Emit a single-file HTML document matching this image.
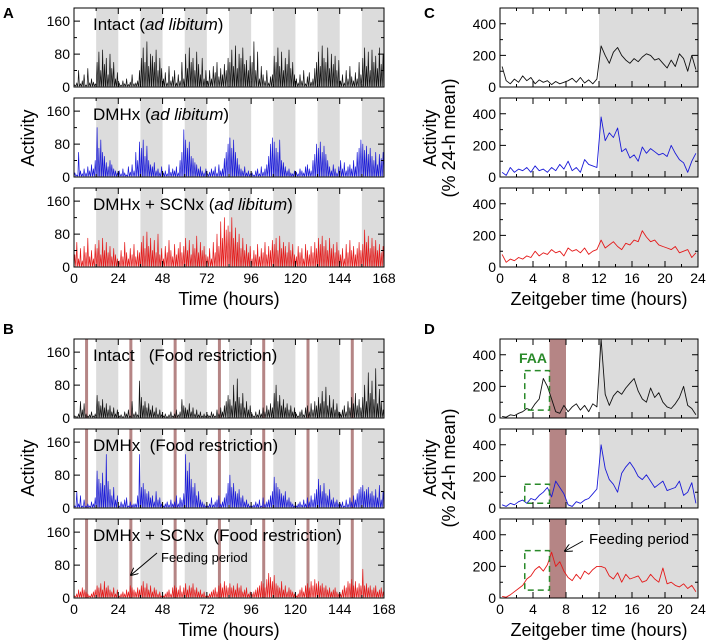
<!DOCTYPE html>
<html><head><meta charset="utf-8"><style>
body{margin:0;background:#fff;}
svg{display:block;font-family:"Liberation Sans",Arial,sans-serif;}
</style></head><body>
<svg id="fig" width="709" height="642" viewBox="0 0 709 642" xmlns="http://www.w3.org/2000/svg">
<text x="3" y="18" font-size="15" font-weight="bold">A</text>
<text x="3" y="334" font-size="15" font-weight="bold">B</text>
<text x="424" y="18" font-size="15" font-weight="bold">C</text>
<text x="424" y="334" font-size="15" font-weight="bold">D</text>
<text transform="translate(34,138) rotate(-90)" text-anchor="middle" font-size="18">Activity</text>
<text transform="translate(34,468) rotate(-90)" text-anchor="middle" font-size="18">Activity</text>
<text transform="translate(436,138) rotate(-90)" text-anchor="middle" font-size="18">Activity</text>
<text transform="translate(455,138) rotate(-90)" text-anchor="middle" font-size="18">(% 24-h mean)</text>
<text transform="translate(436,468) rotate(-90)" text-anchor="middle" font-size="18">Activity</text>
<text transform="translate(455,468) rotate(-90)" text-anchor="middle" font-size="18">(% 24-h mean)</text>
<text x="229" y="305" text-anchor="middle" font-size="18">Time (hours)</text>
<text x="229" y="636" text-anchor="middle" font-size="18">Time (hours)</text>
<text x="599" y="305" text-anchor="middle" font-size="18">Zeitgeber time (hours)</text>
<text x="599" y="636" text-anchor="middle" font-size="18">Zeitgeber time (hours)</text>
</svg>
<script>
// Panel A (ad libitum), hourly values
const aIntact=[5,10,40,8,15,30,5,45,10,20,12,8,60,85,40,90,55,70,30,80,45,60,20,35,
10,5,15,8,20,6,12,30,8,10,15,40,70,95,60,110,50,80,75,60,90,40,70,45,
20,35,10,50,15,25,40,10,30,15,60,20,80,45,95,60,70,40,85,55,30,70,20,40,
15,40,20,50,35,60,25,45,30,55,40,70,60,90,50,100,45,80,70,95,55,65,40,75,
60,110,40,85,20,50,30,15,40,10,25,30,75,60,95,50,85,40,70,55,90,45,60,30,
20,10,30,15,40,8,25,35,12,20,45,60,85,50,100,70,60,95,45,80,55,75,40,65,
15,30,10,40,20,50,25,15,35,20,60,30,70,95,50,85,40,90,60,75,45,95,55,80];
const aDMHx=[10,5,60,15,8,20,10,25,15,30,20,40,120,70,90,60,50,35,25,40,30,20,15,10,
15,8,20,10,5,25,12,30,15,60,40,85,70,90,50,75,40,30,25,35,15,20,10,25,
10,15,8,30,12,20,15,25,10,40,60,115,90,70,85,50,45,35,30,20,25,15,10,20,
8,12,20,15,25,10,30,15,20,45,60,80,95,70,90,60,45,30,20,15,25,10,15,8,
10,5,15,20,8,25,12,20,30,50,80,95,85,70,60,90,40,35,25,15,20,10,8,15,
12,8,20,15,10,25,30,20,15,40,55,80,70,85,60,75,55,40,25,15,30,20,10,25,
40,20,35,15,25,30,20,40,25,60,70,90,80,65,75,55,70,50,40,60,30,55,45,60];
const aSCNx=[30,60,20,45,15,50,35,70,25,40,20,55,45,65,30,70,40,60,35,50,25,45,30,20,
15,40,25,60,35,20,45,30,55,25,40,35,60,75,45,85,50,70,40,65,35,80,30,45,
20,50,35,65,40,25,55,30,45,60,35,50,70,40,65,30,55,45,75,35,60,40,50,30,
25,45,20,60,35,80,50,110,70,120,90,100,85,120,70,95,60,80,45,70,40,55,35,50,
20,40,30,55,25,45,35,60,30,50,40,65,55,70,40,75,45,60,50,35,60,40,55,30,
25,50,35,45,20,55,40,30,50,35,60,45,70,55,75,50,65,40,70,45,55,35,60,40,
30,45,20,55,35,65,40,50,30,45,60,40,55,90,60,75,45,70,50,65,40,55,35,50];
// Panel B (food restriction)
const bIntact=[5,3,10,40,20,35,10,5,8,15,5,10,55,40,30,45,25,35,20,30,15,25,10,20,
5,8,3,15,10,20,5,40,10,15,8,90,50,30,40,25,35,20,30,15,25,10,20,8,
5,10,3,8,15,5,10,20,8,15,45,30,25,20,35,15,25,10,20,8,15,5,10,5,
8,5,15,10,5,20,10,25,15,30,40,55,45,30,80,40,95,50,35,60,25,40,20,30,
10,5,15,8,20,10,25,15,30,20,35,25,60,80,40,55,30,45,25,35,20,30,15,25,
10,5,15,20,8,25,30,15,35,20,40,30,50,35,65,40,75,30,55,25,45,20,35,15,
10,20,30,15,40,25,50,35,60,30,45,25,50,80,40,110,60,90,45,120,35,70,40,20];
const bDMHx=[5,40,10,30,5,20,5,10,5,15,10,25,90,70,60,85,55,130,65,45,30,50,20,30,
5,15,10,20,25,5,15,8,10,10,30,130,50,60,45,35,40,25,30,15,40,20,25,10,
5,10,15,8,20,10,15,30,10,25,20,35,130,90,110,70,50,60,30,40,20,15,10,5,
5,10,25,8,15,20,30,10,15,25,35,60,80,50,60,40,35,45,25,30,15,20,10,5,
5,8,15,10,20,5,25,10,15,20,30,40,75,60,50,45,35,30,40,20,25,15,10,5,
5,10,15,8,20,10,25,15,30,20,35,45,70,55,40,60,35,30,45,20,25,15,20,10,
10,15,5,20,10,25,15,30,20,35,45,50,55,40,45,50,35,40,30,45,25,55,20,40];
const bSCNx=[5,10,20,15,25,20,15,10,5,10,15,20,30,25,35,20,40,25,30,20,15,25,10,20,
5,10,15,10,20,15,30,25,20,15,25,20,30,40,25,35,20,30,15,25,20,10,15,5,
5,10,15,20,10,25,30,25,20,30,15,25,35,20,30,25,35,20,25,15,20,10,15,5,
5,10,15,20,25,15,30,35,25,40,30,25,35,25,30,20,35,25,30,15,20,25,10,15,
10,15,20,25,30,40,35,25,45,60,50,40,55,35,30,25,40,20,30,15,25,20,15,10,
5,10,20,25,15,30,35,25,40,30,45,35,40,30,35,25,30,20,25,15,20,25,15,10,
10,20,30,25,40,35,45,30,40,25,35,30,70,30,35,25,30,20,25,30,15,20,25,15];
// Panels C/D, half-hour values (% of 24-h mean)
const cIntact=[130,40,20,50,30,70,40,60,20,45,30,40,15,35,20,30,40,55,30,60,25,45,20,50,
260,200,150,220,250,200,170,150,180,160,190,210,200,170,180,150,120,170,130,210,180,100,200,110];
const cDMHx=[30,10,60,30,50,40,60,30,70,40,50,30,60,40,80,50,100,40,60,30,110,80,70,60,
380,230,280,250,310,160,180,120,140,100,190,150,180,160,140,150,130,200,150,110,90,30,100,150];
const cSCNx=[80,30,50,40,60,50,70,60,100,70,90,80,110,90,100,70,120,100,110,90,120,80,100,110,
170,120,140,160,130,110,150,140,170,160,230,190,160,170,140,130,120,110,130,90,100,110,60,90];
const dIntact=[10,5,20,15,30,40,60,50,90,120,250,200,120,40,30,80,40,70,90,50,80,40,90,70,
500,150,80,140,170,150,190,220,250,170,120,100,190,130,160,100,70,60,90,130,200,80,60,20];
const dDMHx=[20,10,30,20,40,50,30,60,50,80,100,130,70,170,130,90,20,10,40,30,50,60,90,120,
400,250,180,150,100,220,260,290,250,200,180,210,170,130,150,170,110,120,130,170,80,100,160,30];
const dSCNx=[10,5,20,40,60,80,120,140,180,200,170,210,290,200,230,170,130,110,150,120,170,150,180,200,
200,190,140,120,160,100,150,120,130,140,100,110,150,120,100,190,90,100,80,70,90,60,80,40];
const weekTicks=[0,24,48,72,96,120,144,168];
const dayTicks=[0,4,8,12,16,20,24];
const actTicks=[0,80,160];
const pctTicks=[0,200,400];
const faaBoxes=[[3,6,50,300],[3,6,30,150],[3,6,50,300]];

const NS='http://www.w3.org/2000/svg';
const svg=document.getElementById('fig');
function mk(tag,attrs,parent){const e=document.createElementNS(NS,tag);for(const k in attrs)e.setAttribute(k,attrs[k]);(parent||svg).appendChild(e);return e;}

function panel(o){
  const g=mk('g',{});
  
  
  const sx=v=>o.x0+(v-o.xmin)/(o.xmax-o.xmin)*(o.x1-o.x0);
  const sy=v=>o.y1-(v/o.ymax)*(o.y1-o.y0);
  for(let d=o.xmin;d<o.xmax;d+=24){
    const r=mk('rect',{x:sx(d+12),y:o.y0,width:sx(d+24)-sx(d+12),height:o.y1-o.y0,fill:'#dcdcdc'},g);
    
    
  }
  if(o.feed){
    for(let d=o.xmin;d<o.xmax;d+=24){
      const w=o.spiky?3:sx(d+8)-sx(d+6);
      const r=mk('rect',{x:sx(d+6),y:o.y0,width:w,height:o.y1-o.y0,fill:'#b58585'},g);
      
      
    }
  }
  const step=(o.xmax-o.xmin)/o.data.length;
  let p='';
  o.data.forEach((v,i)=>{
    const X=sx(o.xmin+i*step+step/2), Y=sy(Math.min(v,o.ymax));
    if(o.spiky){
      p+=(i?'L':'M')+sx(o.xmin+i*step+step*0.1).toFixed(1)+','+(o.y1-1).toFixed(1);
      p+='L'+X.toFixed(1)+','+Y.toFixed(1);
      p+='L'+sx(o.xmin+i*step+step*0.9).toFixed(1)+','+(o.y1-1).toFixed(1);
    } else {
      p+=(i?'L':'M')+X.toFixed(1)+','+Y.toFixed(1);
    }
  });
  const tr=mk('path',{d:p,fill:'none',stroke:o.color,'stroke-width':o.spiky?0.7:0.9,'stroke-linejoin':'round'},g);
  
  
  if(o.box){
    const b=o.box;
    const r=mk('rect',{x:sx(b[0]),y:sy(b[3]),width:sx(b[1])-sx(b[0]),height:sy(b[2])-sy(b[3]),fill:'none',stroke:'#2a8a2a','stroke-width':1.5,'stroke-dasharray':'6,4'},g);
    
    
  }
  mk('rect',{x:o.x0,y:o.y0,width:o.x1-o.x0,height:o.y1-o.y0,fill:'none',stroke:'#000','stroke-width':1},g);
  let t='';
  for(let v=o.xmin;v<=o.xmax;v+=o.xminor){
    const L=((v-o.xmin)%o.xmajor===0)?6:3;const X=sx(v);
    t+=`M${X},${o.y1}v${-L}M${X},${o.y0}v${L}`;
  }
  for(let v=0;v<o.ymax;v+=o.yminor){
    const L=(v%o.ymajor===0)?6:3;const Y=sy(v);
    t+=`M${o.x0},${Y}h${L}M${o.x1},${Y}h${-L}`;
  }
  mk('path',{d:t,stroke:'#000','stroke-width':1,fill:'none'},g);
  o.yt.forEach(v=>{
    const e=mk('text',{x:o.x0-4,y:sy(v)+5,'text-anchor':'end','font-size':14},g);
    e.textContent=v;
    
    
  });
  if(o.xt){o.xt.forEach(v=>{
    const e=mk('text',{x:sx(v),y:o.y1+16,'text-anchor':'middle','font-size':14},g);
    e.textContent=v;
    
    
  });}
  if(o.title){
    const e=mk('text',{x:o.x0+19,y:o.y0+22,'font-size':17},g);
    e.innerHTML=o.title;
    
    
  }
}
const A={x0:74,x1:384,xmin:0,xmax:168,ymax:192,xmajor:24,xminor:12,ymajor:80,yminor:40,yt:actTicks,spiky:1};
const C={x0:500,x1:698,xmin:0,xmax:24,ymax:500,xmajor:4,xminor:2,ymajor:200,yminor:100,yt:pctTicks};
const K='#111', Bl='#1a1ad8', R='#e41a1a';
const ad='(<tspan font-style="italic">ad libitum</tspan>)';
panel({...A,name:'panel-a-intact',y0:8,y1:87,data:aIntact,color:K,title:'Intact '+ad});
panel({...A,name:'panel-a-dmhx',y0:98,y1:177,data:aDMHx,color:Bl,title:'DMHx '+ad});
panel({...A,name:'panel-a-dmhx-scnx',y0:188,y1:267,data:aSCNx,color:R,title:'DMHx + SCNx '+ad,xt:weekTicks});
panel({...A,name:'panel-b-intact',y0:339,y1:418,data:bIntact,color:K,feed:1,title:'Intact &#160;&#160;(Food restriction)'});
panel({...A,name:'panel-b-dmhx',y0:429,y1:508,data:bDMHx,color:Bl,feed:1,title:'DMHx &#160;(Food restriction)'});
panel({...A,name:'panel-b-dmhx-scnx',y0:519,y1:598,data:bSCNx,color:R,feed:1,title:'DMHx + SCNx &#160;(Food restriction)',xt:weekTicks});
panel({...C,name:'panel-c-intact',y0:8,y1:87,data:cIntact,color:K});
panel({...C,name:'panel-c-dmhx',y0:98,y1:177,data:cDMHx,color:Bl});
panel({...C,name:'panel-c-dmhx-scnx',y0:188,y1:267,data:cSCNx,color:R,xt:dayTicks});
panel({...C,name:'panel-d-intact',y0:339,y1:418,data:dIntact,color:K,feed:1,box:faaBoxes[0]});
panel({...C,name:'panel-d-dmhx',y0:429,y1:508,data:dDMHx,color:Bl,feed:1,box:faaBoxes[1]});
panel({...C,name:'panel-d-dmhx-scnx',y0:519,y1:598,data:dSCNx,color:R,feed:1,box:faaBoxes[2],xt:dayTicks});

const faa=mk('text',{x:519,y:363,'font-size':14,'font-weight':'bold',fill:'#2a8a2a'});
faa.textContent='FAA';


mk('defs',{}).innerHTML='<marker id="ah" markerWidth="8" markerHeight="8" refX="7" refY="4" orient="auto"><path d="M0,0L8,4L0,8" fill="none" stroke="#000"/></marker>';
const fb=mk('text',{x:161,y:562,'font-size':13});
fb.textContent='Feeding period';


const ab=mk('line',{x1:157,y1:553,x2:131,y2:575,stroke:'#000','stroke-width':1,'marker-end':'url(#ah)'});


const fd=mk('text',{x:589,y:544,'font-size':15});
fd.textContent='Feeding period';


const ad2=mk('line',{x1:583,y1:541,x2:565,y2:551,stroke:'#000','stroke-width':1,'marker-end':'url(#ah)'});


</script>
</body></html>
